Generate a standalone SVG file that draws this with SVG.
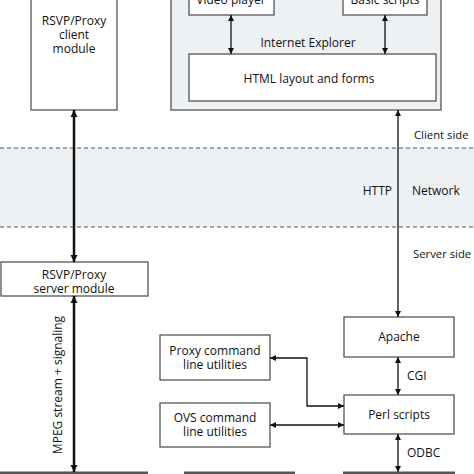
<svg xmlns="http://www.w3.org/2000/svg" width="474" height="474" viewBox="0 0 474 474">
<defs>
<marker id="ah" viewBox="0 0 10 10" refX="10" refY="5" markerWidth="6" markerHeight="6" orient="auto-start-reverse" markerUnits="userSpaceOnUse"><path d="M0,0 L10,5 L0,10 z" fill="#111"/></marker>
<marker id="ahb" viewBox="0 0 10 10" refX="10" refY="5" markerWidth="7" markerHeight="9" orient="auto-start-reverse" markerUnits="userSpaceOnUse"><path d="M0,0 L10,5 L0,10 z" fill="#111"/></marker>
<style>
.box{fill:#fff;stroke:#555;stroke-width:1.3}
.t{font-family:"Open Sans","Noto Sans",sans-serif;font-size:12px;fill:#111;text-anchor:middle}
.l{font-family:"Open Sans","Noto Sans",sans-serif;font-size:12px;fill:#111}
.s{font-family:"Open Sans","Noto Sans",sans-serif;font-size:11.3px;fill:#111}
.c{stroke:#111;stroke-width:1.3;fill:none}
.cb{stroke:#111;stroke-width:2.5;fill:none}
.dash{stroke:#555;stroke-width:1.2;stroke-dasharray:4,3}
.bar{stroke:#555;stroke-width:3}
</style>
</defs>
<rect x="0" y="148" width="474" height="79" fill="#eef1f3"/>
<line class="dash" x1="0" y1="148" x2="474" y2="148"/>
<line class="dash" x1="0" y1="227" x2="474" y2="227"/>
<text class="s" x="414" y="139">Client side</text>
<text class="l" x="392" y="195" style="text-anchor:end">HTTP</text>
<text class="l" x="412" y="195">Network</text>
<text class="s" x="413" y="258">Server side</text>
<g id="client"><rect class="box" x="31" y="-10" width="86" height="120"/><text class="t" x="74" y="25">RSVP/Proxy</text><text class="t" x="74" y="39">client</text><text class="t" x="74" y="53">module</text></g>
<g id="ie"><rect x="171" y="-10" width="270" height="120" fill="#eef1f3" stroke="#555" stroke-width="1.3"/><text class="t" x="308" y="47">Internet Explorer</text></g>
<g id="video"><rect class="box" x="189" y="-10" width="85" height="25"/><text class="t" x="231" y="4">Video player</text></g>
<g id="basic"><rect class="box" x="343" y="-10" width="84" height="25"/><text class="t" x="385" y="4">Basic scripts</text></g>
<g id="html"><rect class="box" x="189" y="54" width="247" height="47"/><text class="t" x="309" y="83">HTML layout and forms</text></g>
<g id="server"><rect class="box" x="1" y="262" width="147" height="34"/><text class="t" x="74" y="279">RSVP/Proxy</text><text class="t" x="74" y="293">server module</text></g>
<g id="apache"><rect class="box" x="344" y="317" width="110" height="40"/><text class="t" x="399" y="341">Apache</text></g>
<g id="perl"><rect class="box" x="344" y="395" width="110" height="39"/><text class="t" x="399" y="419">Perl scripts</text></g>
<g id="proxycmd"><rect class="box" x="160" y="335" width="110" height="45"/><text class="t" x="215" y="355">Proxy command</text><text class="t" x="215" y="369">line utilities</text></g>
<g id="ovscmd"><rect class="box" x="160" y="403" width="110" height="44"/><text class="t" x="215" y="422">OVS command</text><text class="t" x="215" y="436">line utilities</text></g>
<g id="bottom"><line class="bar" x1="0" y1="473" x2="148" y2="473"/><line class="bar" x1="184" y1="473" x2="295" y2="473"/><line class="bar" x1="343" y1="473" x2="455" y2="473"/></g>
<g id="connectors">
<line class="c" x1="231" y1="15" x2="231" y2="54" marker-start="url(#ah)" marker-end="url(#ah)"/>
<line class="c" x1="385" y1="15" x2="385" y2="54" marker-start="url(#ah)" marker-end="url(#ah)"/>
<line class="c" x1="398" y1="110" x2="398" y2="317" marker-start="url(#ah)" marker-end="url(#ah)"/>
<line class="cb" x1="74" y1="110" x2="74" y2="262" marker-start="url(#ahb)" marker-end="url(#ahb)"/>
<line class="cb" x1="74" y1="296" x2="74" y2="472" marker-start="url(#ahb)" marker-end="url(#ahb)"/>
<line class="c" x1="398" y1="357" x2="398" y2="395" marker-start="url(#ah)" marker-end="url(#ah)"/>
<line class="c" x1="398" y1="434" x2="398" y2="472" marker-start="url(#ah)" marker-end="url(#ah)"/>
<polyline class="c" points="270,358 307,358 307,406 344,406" marker-start="url(#ah)" marker-end="url(#ah)"/>
<line class="c" x1="270" y1="425" x2="344" y2="425" marker-start="url(#ah)" marker-end="url(#ah)"/>
<text class="l" x="407" y="380">CGI</text>
<text class="l" x="407" y="457">ODBC</text>
<text class="t" transform="translate(62,385) rotate(-90)">MPEG stream + signaling</text>
</g>
</svg>
